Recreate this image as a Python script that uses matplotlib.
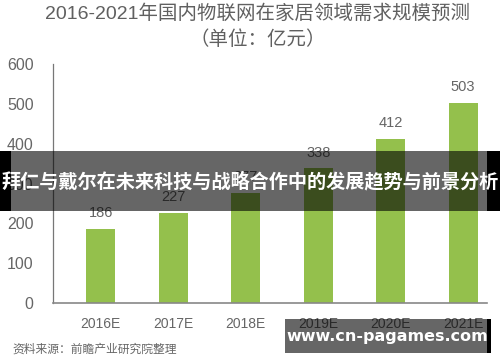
import matplotlib.pyplot as plt
from matplotlib.patches import Rectangle

plt.rcParams['font.family'] = ['Liberation Sans', 'Noto Sans CJK SC', 'DejaVu Sans']

# 数据
years = ['2016E', '2017E', '2018E', '2019E', '2020E', '2021E']
values = [186, 227, 277, 338, 412, 503]
yticks = [0, 100, 200, 300, 400, 500, 600]

title = '2016-2021年国内物联网在家居领域需求规模预测'
unit = '（单位：亿元）'
source = '资料来源：前瞻产业研究院整理'
banner = '拜仁与戴尔在未来科技与战略合作中的发展趋势与前景分析'
watermark = 'www.cn-pagames.com'

bar_color = '#94c04c'
text_color = '#666666'

fig = plt.figure(figsize=(5, 3.62), dpi=100)
ax = fig.add_axes([0.106, 0.163, 0.868, 0.66])

x = range(len(years))
ax.bar(x, values, width=0.4, color=bar_color)
for i, v in zip(x, values):
    ax.text(i, v + 22, str(v), ha='center', va='bottom', fontsize=10.5, color=text_color)

ax.set_xlim(-0.66, 5.33)
ax.set_ylim(0, 600)
ax.set_yticks(yticks)
ax.set_xticks(list(x))
ax.set_xticklabels(years)
ax.tick_params(axis='y', length=0, pad=14, labelsize=11.5, labelcolor=text_color)
ax.tick_params(axis='x', length=0, pad=10, labelsize=10, labelcolor=text_color)
for s in ['top', 'right']:
    ax.spines[s].set_visible(False)
ax.spines['left'].set_color('#777777')
ax.spines['bottom'].set_color('#888888')
ax.spines['left'].set_linewidth(0.9)
ax.spines['bottom'].set_linewidth(1.2)

fig.text(0.516, 0.962, title, ha='center', va='center', fontsize=14, color='#606060')
fig.text(0.516, 0.89, unit, ha='center', va='center', fontsize=14, color='#606060')
fig.text(0.024, 0.018, source, ha='left', va='bottom', fontsize=8.5, color=text_color)

# 横幅遮罩
fig.add_artist(Rectangle((0, 1 - 211 / 362), 1, 60 / 362, transform=fig.transFigure,
                         facecolor='black', alpha=0.6, linewidth=0))
fig.add_artist(Rectangle((0, 1 - 211 / 362), 11 / 500, 60 / 362, transform=fig.transFigure,
                         facecolor='black', linewidth=0))
fig.add_artist(Rectangle((487 / 500, 1 - 211 / 362), 13 / 500, 60 / 362, transform=fig.transFigure,
                         facecolor='black', linewidth=0))
fig.text(0.5, 1 - 182 / 362, banner, ha='center', va='center', fontsize=13.8,
         fontweight='bold', color='white', family=['Noto Sans CJK SC', 'DejaVu Sans'])

# 水印
fig.add_artist(Rectangle((285 / 500, 1 - 353 / 362), 202 / 500, 34 / 362, transform=fig.transFigure,
                         facecolor='black', alpha=0.6, linewidth=0))
fig.add_artist(Rectangle((487 / 500, 1 - 353 / 362), 4 / 500, 34 / 362, transform=fig.transFigure,
                         facecolor='black', linewidth=0))
fig.text(387 / 500, 1 - 337 / 362, watermark, ha='center', va='center', fontsize=11.5,
         fontweight='bold', color='white', family='DejaVu Sans')

fig.savefig('out.png', dpi=100)
